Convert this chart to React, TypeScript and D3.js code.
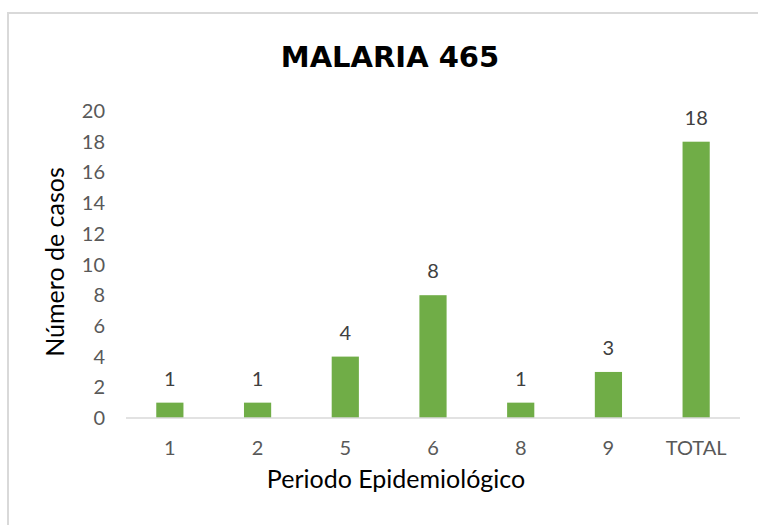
import React, { useEffect, useRef } from "react";
import * as d3 from "d3";

const categories = ["1", "2", "5", "6", "8", "9", "TOTAL"];
const values = [1, 1, 4, 8, 1, 3, 18];
const yTicks = [0, 2, 4, 6, 8, 10, 12, 14, 16, 18, 20];

const App = () => {
  const svgRef = useRef<SVGSVGElement>(null);

  useEffect(() => {
    const svg = d3.select(svgRef.current);
    const width = 758;
    const height = 525;
    const margin = { top: 111, right: 18, bottom: 107, left: 126 };
    const font = "Lato, 'Open Sans', sans-serif";

    svg.selectAll("*").remove();

    // chart frame (only top and left edges are visible in the crop)
    svg
      .append("rect")
      .attr("x", 8)
      .attr("y", 13)
      .attr("width", 780)
      .attr("height", 540)
      .attr("fill", "#fff")
      .attr("stroke", "#d9d9d9")
      .attr("stroke-width", 2);

    const chartWidth = width - margin.left - margin.right;
    const chartHeight = height - margin.top - margin.bottom;

    const xScale = d3
      .scaleBand()
      .domain(categories)
      .range([0, chartWidth])
      .paddingInner(0.69)
      .paddingOuter(0.345);

    const yScale = d3.scaleLinear().domain([0, 20]).range([chartHeight, 0]);

    const g = svg
      .append("g")
      .attr("transform", `translate(${margin.left}, ${margin.top})`);

    // Y tick labels
    g.selectAll(".ytick")
      .data(yTicks)
      .enter()
      .append("text")
      .attr("class", "ytick")
      .attr("x", -21)
      .attr("y", (d) => yScale(d))
      .attr("dy", "0.35em")
      .attr("text-anchor", "end")
      .attr("font-family", font)
      .attr("font-size", 20)
      .attr("fill", "#595959")
      .text((d) => d);

    // Bars
    g.selectAll(".bar")
      .data(values)
      .enter()
      .append("rect")
      .attr("class", "bar")
      .attr("x", (d, i) => xScale(categories[i]))
      .attr("y", (d) => yScale(d))
      .attr("width", xScale.bandwidth())
      .attr("height", (d) => chartHeight - yScale(d))
      .attr("fill", "#70ad47");

    // X axis line
    g.append("line")
      .attr("x1", 0)
      .attr("x2", chartWidth)
      .attr("y1", chartHeight)
      .attr("y2", chartHeight)
      .attr("stroke", "#d9d9d9")
      .attr("stroke-width", 1.5);

    // X tick labels
    g.selectAll(".xtick")
      .data(categories)
      .enter()
      .append("text")
      .attr("class", "xtick")
      .attr("x", (d) => xScale(d) + xScale.bandwidth() / 2)
      .attr("y", chartHeight + 30)
      .attr("dy", "0.35em")
      .attr("text-anchor", "middle")
      .attr("font-family", font)
      .attr("font-size", 20)
      .attr("fill", "#595959")
      .text((d) => d);

    // Data labels
    g.selectAll(".label")
      .data(values)
      .enter()
      .append("text")
      .attr("class", "label")
      .attr("x", (d, i) => xScale(categories[i]) + xScale.bandwidth() / 2)
      .attr("y", (d) => yScale(d) - 24)
      .attr("dy", "0.35em")
      .attr("text-anchor", "middle")
      .attr("font-family", font)
      .attr("font-size", 20)
      .attr("fill", "#404040")
      .text((d) => d);

    // Title
    svg
      .append("text")
      .attr("x", 390)
      .attr("y", 67)
      .attr("text-anchor", "middle")
      .attr("font-family", "'DejaVu Sans', sans-serif")
      .attr("font-weight", "bold")
      .attr("font-size", 29)
      .attr("fill", "#000")
      .text("MALARIA 465");

    // Y axis title
    svg
      .append("text")
      .attr("transform", `translate(64, 262) rotate(-90)`)
      .attr("text-anchor", "middle")
      .attr("font-family", font)
      .attr("font-size", 25)
      .attr("fill", "#000")
      .text("Número de casos");

    // X axis title
    svg
      .append("text")
      .attr("x", 396)
      .attr("y", 488)
      .attr("text-anchor", "middle")
      .attr("font-family", font)
      .attr("font-size", 25)
      .attr("fill", "#000")
      .text("Periodo Epidemiológico");
  }, []);

  return (
    <svg
      ref={svgRef}
      width={758}
      height={525}
      style={{ position: "absolute", left: 0, top: 0, display: "block" }}
    ></svg>
  );
};

export default App;
